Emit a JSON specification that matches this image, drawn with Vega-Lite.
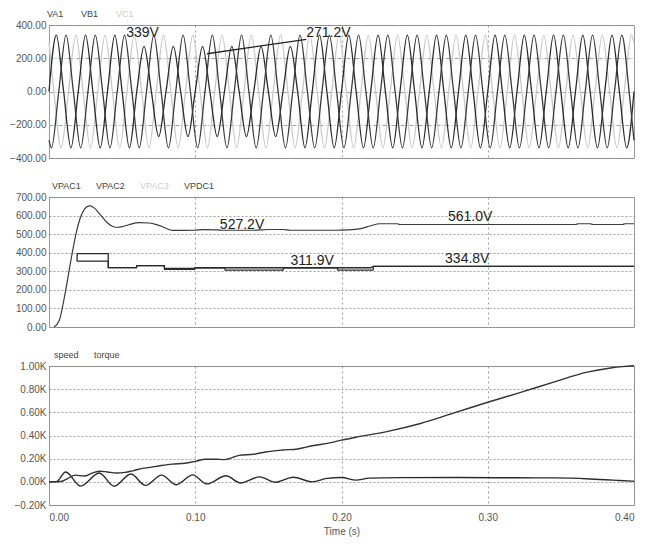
{
"$schema": "https://vega.github.io/schema/vega-lite/v6.json",
"background": "white",
"padding": {"left": 9, "top": 8, "right": 12, "bottom": 2},
"spacing": 16,
"config": {
  "font": "Liberation Sans",
  "view": {"stroke": "#999", "strokeWidth": 1},
  "axis": {"domain": false, "ticks": false, "labelColor": "#555", "labelFontSize": 10, "labelFont": "Liberation Sans", "gridColor": "#888", "gridDash": [2, 2], "gridWidth": 0.8, "labelPadding": 3, "titleColor": "#555", "titleFontWeight": "normal", "titleFontSize": 10, "titleFont": "Liberation Sans"},
  "legend": {"orient": "none", "legendX": -4, "legendY": -16, "direction": "horizontal", "title": null, "padding": 0, "symbolOpacity": 0, "symbolSize": 0, "symbolStrokeWidth": 0, "labelFontSize": 9, "labelFont": "Liberation Sans", "labelColor": "#444", "columnPadding": 8, "labelOffset": 0, "symbolLimit": 0}
},
"datasets": {
  "va": [{"t":0,"v":0},{"t":0.005,"v":339},{"t":0.01,"v":0},{"t":0.015,"v":-339},{"t":0.02,"v":0},{"t":0.025,"v":339},{"t":0.03,"v":0},{"t":0.035,"v":-339},{"t":0.04,"v":0},{"t":0.045,"v":339},{"t":0.05,"v":0},{"t":0.055,"v":-339},{"t":0.06,"v":0},{"t":0.065,"v":271},{"t":0.07,"v":0},{"t":0.075,"v":-271},{"t":0.08,"v":0},{"t":0.085,"v":271},{"t":0.09,"v":0},{"t":0.095,"v":-271},{"t":0.1,"v":0},{"t":0.105,"v":271},{"t":0.11,"v":0},{"t":0.115,"v":-271},{"t":0.12,"v":0},{"t":0.125,"v":271},{"t":0.13,"v":0},{"t":0.135,"v":-271},{"t":0.14,"v":0},{"t":0.145,"v":271},{"t":0.15,"v":0},{"t":0.155,"v":-271},{"t":0.16,"v":0},{"t":0.165,"v":271},{"t":0.17,"v":0},{"t":0.175,"v":-339},{"t":0.18,"v":0},{"t":0.185,"v":339},{"t":0.19,"v":0},{"t":0.195,"v":-339},{"t":0.2,"v":0},{"t":0.205,"v":339},{"t":0.21,"v":0},{"t":0.215,"v":-339},{"t":0.22,"v":0},{"t":0.225,"v":339},{"t":0.23,"v":0},{"t":0.235,"v":-339},{"t":0.24,"v":0},{"t":0.245,"v":339},{"t":0.25,"v":0},{"t":0.255,"v":-339},{"t":0.26,"v":0},{"t":0.265,"v":339},{"t":0.27,"v":0},{"t":0.275,"v":-339},{"t":0.28,"v":0},{"t":0.285,"v":339},{"t":0.29,"v":0},{"t":0.295,"v":-339},{"t":0.3,"v":0},{"t":0.305,"v":339},{"t":0.31,"v":0},{"t":0.315,"v":-339},{"t":0.32,"v":0},{"t":0.325,"v":339},{"t":0.33,"v":0},{"t":0.335,"v":-339},{"t":0.34,"v":0},{"t":0.345,"v":339},{"t":0.35,"v":0},{"t":0.355,"v":-339},{"t":0.36,"v":0},{"t":0.365,"v":339},{"t":0.37,"v":0},{"t":0.375,"v":-339},{"t":0.38,"v":0},{"t":0.385,"v":339},{"t":0.39,"v":0},{"t":0.395,"v":-339},{"t":0.4,"v":0}],
  "vb": [{"t":0,"v":-294},{"t":0.00167,"v":-339},{"t":0.00667,"v":0},{"t":0.01167,"v":339},{"t":0.01667,"v":0},{"t":0.02167,"v":-339},{"t":0.02667,"v":0},{"t":0.03167,"v":339},{"t":0.03667,"v":0},{"t":0.04167,"v":-339},{"t":0.04667,"v":0},{"t":0.05167,"v":339},{"t":0.05667,"v":0},{"t":0.06167,"v":-339},{"t":0.06667,"v":0},{"t":0.07167,"v":339},{"t":0.07667,"v":0},{"t":0.08167,"v":-339},{"t":0.08667,"v":0},{"t":0.09167,"v":339},{"t":0.09667,"v":0},{"t":0.10167,"v":-339},{"t":0.10667,"v":0},{"t":0.11167,"v":339},{"t":0.11667,"v":0},{"t":0.12167,"v":-339},{"t":0.12667,"v":0},{"t":0.13167,"v":339},{"t":0.13667,"v":0},{"t":0.14167,"v":-339},{"t":0.14667,"v":0},{"t":0.15167,"v":339},{"t":0.15667,"v":0},{"t":0.16167,"v":-339},{"t":0.16667,"v":0},{"t":0.17167,"v":339},{"t":0.17667,"v":0},{"t":0.18167,"v":-339},{"t":0.18667,"v":0},{"t":0.19167,"v":339},{"t":0.19667,"v":0},{"t":0.20167,"v":-339},{"t":0.20667,"v":0},{"t":0.21167,"v":339},{"t":0.21667,"v":0},{"t":0.22167,"v":-339},{"t":0.22667,"v":0},{"t":0.23167,"v":339},{"t":0.23667,"v":0},{"t":0.24167,"v":-339},{"t":0.24667,"v":0},{"t":0.25167,"v":339},{"t":0.25667,"v":0},{"t":0.26167,"v":-339},{"t":0.26667,"v":0},{"t":0.27167,"v":339},{"t":0.27667,"v":0},{"t":0.28167,"v":-339},{"t":0.28667,"v":0},{"t":0.29167,"v":339},{"t":0.29667,"v":0},{"t":0.30167,"v":-339},{"t":0.30667,"v":0},{"t":0.31167,"v":339},{"t":0.31667,"v":0},{"t":0.32167,"v":-339},{"t":0.32667,"v":0},{"t":0.33167,"v":339},{"t":0.33667,"v":0},{"t":0.34167,"v":-339},{"t":0.34667,"v":0},{"t":0.35167,"v":339},{"t":0.35667,"v":0},{"t":0.36167,"v":-339},{"t":0.36667,"v":0},{"t":0.37167,"v":339},{"t":0.37667,"v":0},{"t":0.38167,"v":-339},{"t":0.38667,"v":0},{"t":0.39167,"v":339},{"t":0.39667,"v":0},{"t":0.4,"v":-294}],
  "vc": [{"t":0,"v":294},{"t":0.00333,"v":0},{"t":0.00833,"v":-339},{"t":0.01333,"v":0},{"t":0.01833,"v":339},{"t":0.02333,"v":0},{"t":0.02833,"v":-339},{"t":0.03333,"v":0},{"t":0.03833,"v":339},{"t":0.04333,"v":0},{"t":0.04833,"v":-339},{"t":0.05333,"v":0},{"t":0.05833,"v":339},{"t":0.06333,"v":0},{"t":0.06833,"v":-339},{"t":0.07333,"v":0},{"t":0.07833,"v":339},{"t":0.08333,"v":0},{"t":0.08833,"v":-339},{"t":0.09333,"v":0},{"t":0.09833,"v":339},{"t":0.10333,"v":0},{"t":0.10833,"v":-339},{"t":0.11333,"v":0},{"t":0.11833,"v":339},{"t":0.12333,"v":0},{"t":0.12833,"v":-339},{"t":0.13333,"v":0},{"t":0.13833,"v":339},{"t":0.14333,"v":0},{"t":0.14833,"v":-339},{"t":0.15333,"v":0},{"t":0.15833,"v":339},{"t":0.16333,"v":0},{"t":0.16833,"v":-339},{"t":0.17333,"v":0},{"t":0.17833,"v":339},{"t":0.18333,"v":0},{"t":0.18833,"v":-339},{"t":0.19333,"v":0},{"t":0.19833,"v":339},{"t":0.20333,"v":0},{"t":0.20833,"v":-339},{"t":0.21333,"v":0},{"t":0.21833,"v":339},{"t":0.22333,"v":0},{"t":0.22833,"v":-339},{"t":0.23333,"v":0},{"t":0.23833,"v":339},{"t":0.24333,"v":0},{"t":0.24833,"v":-339},{"t":0.25333,"v":0},{"t":0.25833,"v":339},{"t":0.26333,"v":0},{"t":0.26833,"v":-339},{"t":0.27333,"v":0},{"t":0.27833,"v":339},{"t":0.28333,"v":0},{"t":0.28833,"v":-339},{"t":0.29333,"v":0},{"t":0.29833,"v":339},{"t":0.30333,"v":0},{"t":0.30833,"v":-339},{"t":0.31333,"v":0},{"t":0.31833,"v":339},{"t":0.32333,"v":0},{"t":0.32833,"v":-339},{"t":0.33333,"v":0},{"t":0.33833,"v":339},{"t":0.34333,"v":0},{"t":0.34833,"v":-339},{"t":0.35333,"v":0},{"t":0.35833,"v":339},{"t":0.36333,"v":0},{"t":0.36833,"v":-339},{"t":0.37333,"v":0},{"t":0.37833,"v":339},{"t":0.38333,"v":0},{"t":0.38833,"v":-339},{"t":0.39333,"v":0},{"t":0.39833,"v":339},{"t":0.4,"v":294}],
  "ann1": [{"t":0.064,"v":352,"s":"339V"},{"t":0.191,"v":352,"s":"271.2V"}],
  "arrow1": [{"t":0.108,"v":227,"t2":0.176,"v2":314}],
  "pdc": [{"t":0.0034,"v":0},{"t":0.007,"v":35},{"t":0.011,"v":180},{"t":0.015,"v":360},{"t":0.019,"v":520},{"t":0.022,"v":600},{"t":0.0255,"v":645},{"t":0.028,"v":652},{"t":0.031,"v":640},{"t":0.035,"v":605},{"t":0.04,"v":560},{"t":0.044,"v":540},{"t":0.047,"v":537},{"t":0.05,"v":540},{"t":0.055,"v":552},{"t":0.0617,"v":562},{"t":0.0686,"v":560},{"t":0.073,"v":553},{"t":0.0777,"v":540},{"t":0.082,"v":525},{"t":0.0845,"v":520},{"t":0.1,"v":521},{"t":0.105,"v":524},{"t":0.115,"v":523},{"t":0.12,"v":521},{"t":0.14,"v":521},{"t":0.15,"v":525},{"t":0.16,"v":525},{"t":0.165,"v":521},{"t":0.195,"v":521},{"t":0.205,"v":523},{"t":0.212,"v":528},{"t":0.22,"v":545},{"t":0.226,"v":556},{"t":0.238,"v":556},{"t":0.24,"v":552},{"t":0.36,"v":552},{"t":0.362,"v":556},{"t":0.37,"v":556},{"t":0.372,"v":552},{"t":0.392,"v":552},{"t":0.394,"v":556},{"t":0.4,"v":556}],
  "pac1": [{"t":0.0192,"v":355},{"t":0.01925,"v":395},{"t":0.0405,"v":395},{"t":0.04055,"v":320},{"t":0.0598,"v":320},{"t":0.06,"v":331},{"t":0.0788,"v":331},{"t":0.079,"v":316},{"t":0.0995,"v":316},{"t":0.1,"v":319},{"t":0.22,"v":319},{"t":0.2215,"v":326},{"t":0.4,"v":326}],
  "pac2": [{"t":0.0192,"v":355},{"t":0.0405,"v":355},{"t":0.04055,"v":320},{"t":0.0598,"v":320},{"t":0.06,"v":331},{"t":0.0788,"v":331},{"t":0.079,"v":311},{"t":0.0995,"v":311},{"t":0.1,"v":319},{"t":0.12,"v":319},{"t":0.1205,"v":306},{"t":0.16,"v":306},{"t":0.1605,"v":319},{"t":0.197,"v":319},{"t":0.1975,"v":306},{"t":0.2215,"v":306},{"t":0.222,"v":326},{"t":0.4,"v":326}],
  "ann2": [{"t":0.132,"v":549,"s":"527.2V"},{"t":0.18,"v":355,"s":"311.9V"},{"t":0.288,"v":590,"s":"561.0V"},{"t":0.286,"v":367,"s":"334.8V"}],
  "speed": [{"t":0,"v":0},{"t":0.008,"v":3},{"t":0.013,"v":30},{"t":0.018,"v":58},{"t":0.024,"v":50},{"t":0.03,"v":78},{"t":0.035,"v":92},{"t":0.04,"v":85},{"t":0.046,"v":76},{"t":0.052,"v":82},{"t":0.057,"v":95},{"t":0.064,"v":116},{"t":0.07,"v":127},{"t":0.075,"v":137},{"t":0.084,"v":153},{"t":0.093,"v":160},{"t":0.1,"v":177},{"t":0.107,"v":195},{"t":0.114,"v":195},{"t":0.12,"v":192},{"t":0.13,"v":228},{"t":0.14,"v":238},{"t":0.148,"v":258},{"t":0.16,"v":275},{"t":0.17,"v":284},{"t":0.18,"v":311},{"t":0.192,"v":336},{"t":0.2,"v":360},{"t":0.21,"v":385},{"t":0.231,"v":434},{"t":0.254,"v":504},{"t":0.277,"v":595},{"t":0.3,"v":687},{"t":0.322,"v":770},{"t":0.345,"v":861},{"t":0.368,"v":947},{"t":0.384,"v":983},{"t":0.392,"v":995},{"t":0.4,"v":1002}],
  "torque": [{"t":0,"v":0},{"t":0.005,"v":2},{"t":0.0114,"v":85},{"t":0.0217,"v":-37},{"t":0.0343,"v":76},{"t":0.0446,"v":-37},{"t":0.056,"v":68},{"t":0.066,"v":-31},{"t":0.077,"v":58},{"t":0.087,"v":-25},{"t":0.0983,"v":60},{"t":0.108,"v":-18},{"t":0.121,"v":52},{"t":0.131,"v":-10},{"t":0.144,"v":43},{"t":0.155,"v":-3},{"t":0.167,"v":40},{"t":0.18,"v":0},{"t":0.19,"v":30},{"t":0.2,"v":37},{"t":0.21,"v":15},{"t":0.219,"v":32},{"t":0.24,"v":36},{"t":0.28,"v":37},{"t":0.32,"v":35},{"t":0.345,"v":34},{"t":0.37,"v":25},{"t":0.39,"v":12},{"t":0.4,"v":5}]
},
"vconcat": [
  {
    "width": 585, "height": 133,
    "encoding": {
      "x": {"field": "t", "type": "quantitative", "scale": {"domain": [0, 0.4], "nice": false, "zero": false}, "axis": {"values": [0.1, 0.2, 0.3], "labels": false, "title": null, "gridDash": [2, 3]}},
      "y": {"field": "v", "type": "quantitative", "scale": {"domain": [-400, 400], "nice": false}, "axis": {"values": [-400, -200, 0, 200, 400], "format": ".2f", "title": null, "gridDash": [4, 2, 1, 2]}}
    },
    "layer": [
      {"data": {"name": "vc"}, "mark": {"type": "line", "interpolate": "monotone", "strokeWidth": 1.3}, "encoding": {"color": {"datum": "VC1", "scale": {"domain": ["VA1", "VB1", "VC1"], "range": ["#2a2a2a", "#3a3a3a", "#c8c8c8"]}, "legend": {"legendX": -11, "columnPadding": 8, "encode": {"labels": {"update": {"fill": {"signal": "datum.value == 'VC1' ? '#cccccc' : '#444444'"}}}}}}}},
      {"data": {"name": "va"}, "mark": {"type": "line", "interpolate": "monotone", "strokeWidth": 1.3}, "encoding": {"color": {"datum": "VA1"}}},
      {"data": {"name": "vb"}, "mark": {"type": "line", "interpolate": "monotone", "strokeWidth": 1.3}, "encoding": {"color": {"datum": "VB1"}}},
      {"data": {"name": "arrow1"}, "mark": {"type": "rule", "color": "#222", "strokeWidth": 1.3}, "encoding": {"x2": {"field": "t2"}, "y2": {"field": "v2"}}},
      {"data": {"name": "ann1"}, "mark": {"type": "text", "fontSize": 14, "color": "#222", "font": "Liberation Sans"}, "encoding": {"text": {"field": "s"}}}
    ]
  },
  {
    "width": 585, "height": 130,
    "encoding": {
      "x": {"field": "t", "type": "quantitative", "scale": {"domain": [0, 0.4], "nice": false, "zero": false}, "axis": {"values": [0.1, 0.2, 0.3], "labels": false, "title": null, "gridDash": [2, 3]}},
      "y": {"field": "v", "type": "quantitative", "scale": {"domain": [0, 700], "nice": false}, "axis": {"values": [0, 100, 200, 300, 400, 500, 600, 700], "format": ".2f", "title": null}}
    },
    "layer": [
      {"data": {"name": "pdc"}, "mark": {"type": "line", "interpolate": "monotone", "strokeWidth": 1.2}, "encoding": {"color": {"datum": "VPDC1", "scale": {"domain": ["VPAC1", "VPAC2", "VPAC3", "VPDC1"], "range": ["#2a2a2a", "#2a2a2a", "#c8c8c8", "#3a3a3a"]}, "legend": {"legendX": -6, "columnPadding": 6, "encode": {"labels": {"update": {"fill": {"signal": "datum.value == 'VPAC3' ? '#cccccc' : '#444444'"}}}}}}}},
      {"data": {"name": "pac2"}, "mark": {"type": "line", "strokeWidth": 1.3}, "encoding": {"color": {"datum": "VPAC2"}}},
      {"data": {"name": "pac1"}, "mark": {"type": "line", "strokeWidth": 1.3}, "encoding": {"color": {"datum": "VPAC1"}}},
      {"data": {"name": "ann2"}, "mark": {"type": "text", "fontSize": 14, "color": "#222", "font": "Liberation Sans"}, "encoding": {"text": {"field": "s"}}}
    ]
  },
  {
    "width": 585, "height": 139,
    "encoding": {
      "x": {"field": "t", "type": "quantitative", "scale": {"domain": [0, 0.4], "nice": false, "zero": false}, "axis": {"values": [0, 0.1, 0.2, 0.3, 0.4], "format": ".2f", "title": "Time (s)", "gridDash": [2, 3], "labelPadding": 7, "titlePadding": 4}},
      "y": {"field": "v", "type": "quantitative", "scale": {"domain": [-200, 1000], "nice": false}, "axis": {"values": [-200, 0, 200, 400, 600, 800, 1000], "labelExpr": "format(datum.value / 1000, '.2f') + 'K'", "title": null}}
    },
    "layer": [
      {"data": {"name": "torque"}, "mark": {"type": "line", "interpolate": "monotone", "strokeWidth": 1.4}, "encoding": {"color": {"datum": "torque", "scale": {"domain": ["speed", "torque"], "range": ["#333", "#2a2a2a"]}, "legend": {"legendX": -4, "columnPadding": 6}}}},
      {"data": {"name": "speed"}, "mark": {"type": "line", "interpolate": "monotone", "strokeWidth": 1.4}, "encoding": {"color": {"datum": "speed"}}}
    ]
  }
],
"resolve": {"scale": {"color": "independent", "x": "independent", "y": "independent"}, "legend": {"color": "independent"}}
}
